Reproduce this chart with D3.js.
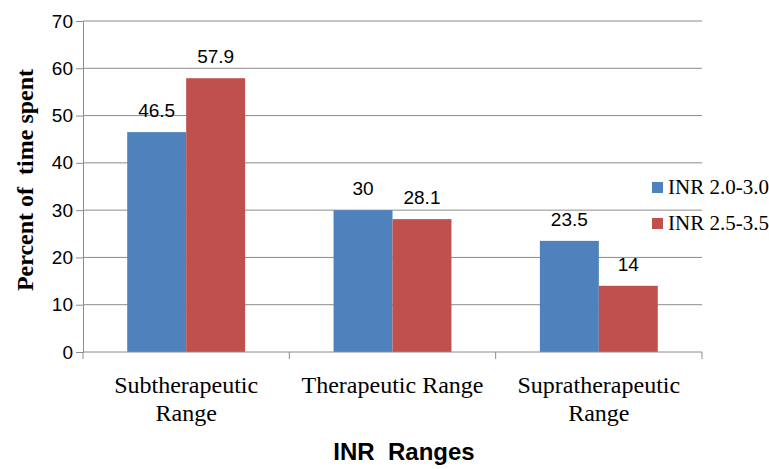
<!DOCTYPE html>
<html>
<head>
<meta charset="utf-8">
<script src="https://cdnjs.cloudflare.com/ajax/libs/d3/7.8.5/d3.min.js"></script>
<style>
  body { margin: 0; background: #fff; }
  .tick text { font-family: Arial, "Liberation Sans", sans-serif; }
</style>
</head>
<body>
<div id="chart"></div>
<script>
// data
var categories = ["Subtherapeutic Range", "Therapeutic Range", "Supratherapeutic Range"];
var catLines = [["Subtherapeutic", "Range"], ["Therapeutic Range"], ["Supratherapeutic", "Range"]];
var seriesNames = ["INR 2.0-3.0", "INR 2.5-3.5"];
var inr20 = [46.5, 30, 23.5];
var inr25 = [57.9, 28.1, 14];
var yTicks = [0, 10, 20, 30, 40, 50, 60, 70];
var colors = ["#4F81BD", "#C0504D"];

var svgWidth = 769, svgHeight = 469;
var margin = { top: 21, right: 67, bottom: 117, left: 83 };
var chartWidth = svgWidth - margin.left - margin.right;
var chartHeight = svgHeight - margin.top - margin.bottom;

var svg = d3.select("#chart").append("svg")
  .attr("width", svgWidth)
  .attr("height", svgHeight);

var chartGroup = svg.append("g")
  .attr("transform", `translate(${margin.left}, ${margin.top})`);

var rows = categories.map((c, i) => ({ cat: c, vals: [inr20[i], inr25[i]] }));

// scales
var x0 = d3.scaleBand().domain(categories).range([0, chartWidth]).paddingInner(0).paddingOuter(0);
var x1 = d3.scaleBand().domain([0, 1]).range([0, x0.bandwidth()]).paddingInner(0).paddingOuter(0.75);
var y = d3.scaleLinear().domain([0, 70]).range([chartHeight, 0]);

// gridlines
chartGroup.selectAll(".grid").data(yTicks.filter(d => d > 0)).enter()
  .append("line")
  .attr("x1", 0).attr("x2", chartWidth)
  .attr("y1", d => y(d)).attr("y2", d => y(d))
  .attr("stroke", "#8c8c8c").attr("stroke-width", 1);

// bars
var groups = chartGroup.selectAll(".grp").data(rows).enter()
  .append("g")
  .attr("transform", d => `translate(${x0(d.cat)},0)`);

groups.selectAll("rect").data(d => d.vals).enter()
  .append("rect")
  .attr("x", (d, i) => x1(i))
  .attr("width", x1.bandwidth())
  .attr("y", d => y(d))
  .attr("height", d => chartHeight - y(d))
  .attr("fill", (d, i) => colors[i]);

groups.selectAll(".lbl").data(d => d.vals).enter()
  .append("text")
  .attr("x", (d, i) => x1(i) + x1.bandwidth() / 2)
  .attr("y", d => y(d) - 15)
  .attr("text-anchor", "middle")
  .style("font-family", "Arial, 'Liberation Sans', sans-serif")
  .style("font-size", "19px")
  .attr("fill", "#000")
  .text(d => d);

// y axis
var leftAxis = d3.axisLeft(y).tickValues(yTicks).tickSize(7).tickPadding(3);
var yAxis = chartGroup.append("g").call(leftAxis);
yAxis.select(".domain").attr("stroke", "#8c8c8c");
yAxis.selectAll(".tick line").attr("stroke", "#8c8c8c");
yAxis.selectAll(".tick text").style("font-size", "19px").attr("fill", "#000");

// x axis
var xAxisG = chartGroup.append("g").attr("transform", `translate(0, ${chartHeight})`);
xAxisG.append("line").attr("x1", 0).attr("x2", chartWidth).attr("stroke", "#8c8c8c");
xAxisG.selectAll(".xt").data(d3.range(categories.length + 1)).enter()
  .append("line")
  .attr("x1", d => d * x0.step()).attr("x2", d => d * x0.step())
  .attr("y1", 0).attr("y2", 7)
  .attr("stroke", "#8c8c8c");

xAxisG.selectAll(".xl").data(categories).enter()
  .append("text")
  .attr("x", d => x0(d) + x0.bandwidth() / 2)
  .attr("y", 41)
  .attr("text-anchor", "middle")
  .style("font-family", "'Liberation Serif', 'Times New Roman', serif")
  .style("font-size", "24px")
  .attr("fill", "#000")
  .each(function(d, i) {
    var t = d3.select(this);
    catLines[i].forEach((line, j) => {
      t.append("tspan").attr("x", x0(d) + x0.bandwidth() / 2).attr("dy", j === 0 ? 0 : 28).text(line);
    });
  });

// legend
var legend = svg.append("g").attr("transform", "translate(652, 182)");
seriesNames.forEach((name, i) => {
  legend.append("rect")
    .attr("x", 0).attr("y", i * 36)
    .attr("width", 11).attr("height", 11)
    .attr("fill", colors[i]);
  legend.append("text")
    .attr("x", 16).attr("y", i * 36 + 12)
    .style("font-family", "'Liberation Serif', 'Times New Roman', serif")
    .style("font-size", "21px")
    .attr("fill", "#000")
    .text(name);
});

// axis titles
svg.append("text")
  .attr("transform", "translate(33, 180) rotate(-90)")
  .attr("text-anchor", "middle")
  .style("font-family", "'Liberation Serif', 'Times New Roman', serif")
  .style("font-size", "24px")
  .style("font-weight", "bold")
  .attr("fill", "#000")
  .text("Percent of\u00a0 time spent");

svg.append("text")
  .attr("x", 404)
  .attr("y", 460)
  .attr("text-anchor", "middle")
  .style("font-family", "Arial, 'Liberation Sans', sans-serif")
  .style("font-size", "24px")
  .style("font-weight", "bold")
  .attr("fill", "#000")
  .text("INR\u00a0 Ranges");
</script>
</body>
</html>
